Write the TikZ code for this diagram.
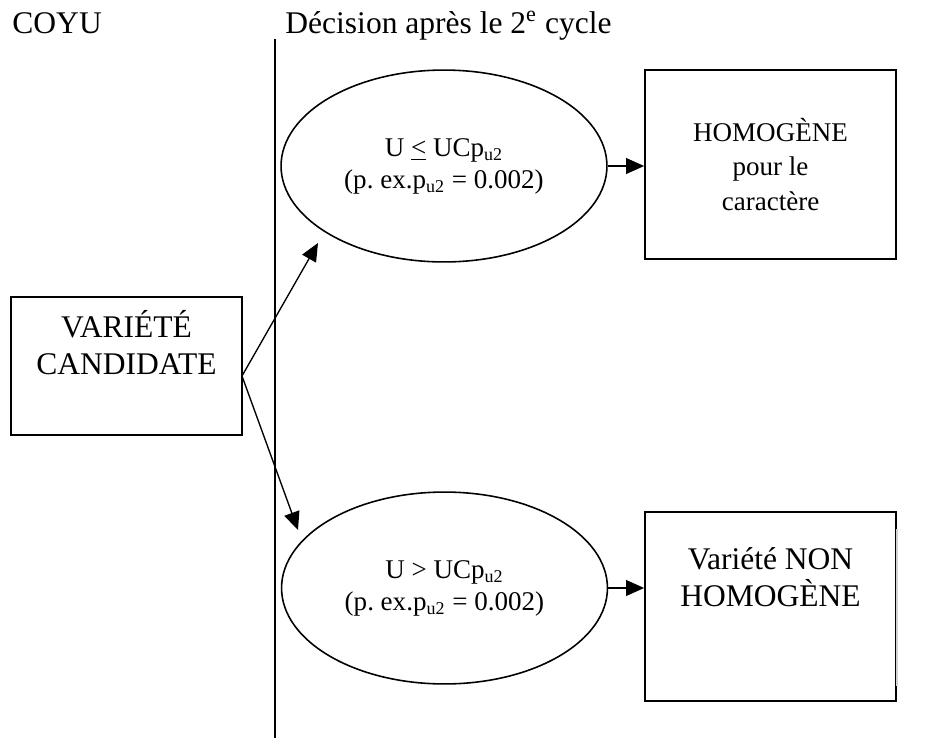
\documentclass[tikz,border=0pt]{standalone}
\usepackage{fontspec}
\setmainfont{Liberation Serif}
\usetikzlibrary{positioning,shapes.geometric,arrows.meta}
\frenchspacing

\begin{document}
\begin{tikzpicture}[x=0.444pt, y=-0.444pt,
		box/.style = {draw, line width=0.8pt, minimum width=111.4pt, minimum height=83.9pt},
		decision/.style = {shape=ellipse, draw, line width=0.7pt, inner sep=0pt,
			minimum width=144.7pt, minimum height=85.2pt, align=center,
			font=\fontsize{12}{14.2}\selectfont},
		heading/.style = {anchor=base west, inner sep=0pt, font=\fontsize{14}{16}\selectfont},
		boxtext/.style = {inner sep=0pt, align=center, font=\fontsize{14}{16.4}\selectfont},
		arr/.style = {-{Triangle[length=8pt,width=7pt]}, line width=0.6pt}]
	\useasboundingbox (0,0) rectangle (943,738);
	% titles
	\node[heading] (coyu) at (12,33) {COYU};
	\node[heading] (cycle) at (285,33) {Décision après le 2\textsuperscript{e} cycle};
	% separator
	\coordinate (sepTop) at (275,39);
	\coordinate (sepBot) at (275,738);
	\draw[line width=0.9pt] (sepTop) -- (sepBot);
	% candidate variety
	\node[box, minimum width=102.6pt, minimum height=61.3pt] (cand) at (126.5,366) {};
	\node[boxtext, below=6pt of cand.north] (candText) {VARIÉTÉ\\CANDIDATE};
	% decisions
	\node[decision] (uLow) at (444,166) {U \underline{<} UCp\textsubscript{u2}\\(p. ex.p\textsubscript{u2} = 0.002)};
	\node[decision] (uHigh) at (444.5,588) {U > UCp\textsubscript{u2}\\(p. ex.p\textsubscript{u2} = 0.002)};
	% outcomes
	\node[box, align=center, font=\fontsize{12}{15.5}\selectfont] (homog) at (770.5,164.5) {HOMOGÈNE\\pour le\\caractère};
	\node[box] (nonHomog) at (770.5,606.5) {};
	\node[boxtext, below=16pt of nonHomog.north] (nonHomogText) {Variété NON\\HOMOGÈNE};
	\draw[gray!35, line width=1.1pt] ([yshift=-8pt]nonHomog.north east) -- ([yshift=7pt]nonHomog.south east);
	% connectors
	\coordinate (fork) at (242,376);
	\coordinate (tipLow) at (318,243);
	\coordinate (tipHigh) at (298,530);
	\draw[arr] (fork) -- (tipLow);
	\draw[arr] (fork) -- (tipHigh);
	\draw[arr] (uLow.east) -- (uLow.east -| homog.west);
	\draw[arr] (uHigh.east) -- (uHigh.east -| nonHomog.west);
\end{tikzpicture}
\end{document}
